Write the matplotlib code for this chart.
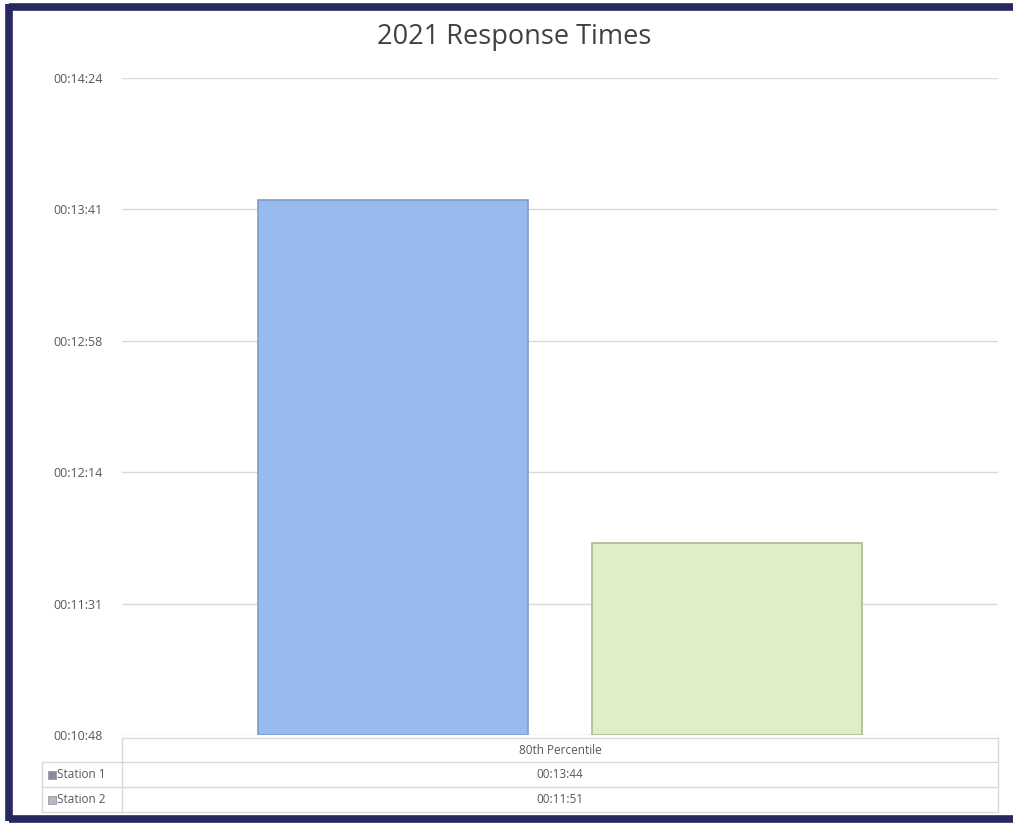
import matplotlib
matplotlib.use('Agg')
import matplotlib.pyplot as plt
from matplotlib.lines import Line2D
from matplotlib.patches import Rectangle

plt.rcParams['font.family'] = ['Open Sans', 'DejaVu Sans']

# 数据
title = '2021 Response Times'
category = '80th Percentile'
stations = ['Station 1', 'Station 2']
times = ['00:13:44', '00:11:51']
bar_colors = ['#97bbef', '#dfeec6']
edge_colors = ['#7d9cc9', '#a9b996']
y_min, y_max, y_step = 648, 864, 43.2   # 秒


def to_sec(s):
    h, m, sec = s.split(':')
    return int(h) * 3600 + int(m) * 60 + int(sec)


def fmt(v):
    v = int(round(v))
    return '{:02d}:{:02d}:{:02d}'.format(v // 3600, (v % 3600) // 60, v % 60)


W, H = 1013, 823
fig = plt.figure(figsize=(W / 100, H / 100), dpi=100)


def fx(x):
    return x / W


def fy(y):
    return 1 - y / H


# 外框 (右边被截掉)
border_c = '#27285f'
for xs, ys in [([8.5, 1013], [6.5, 6.5]), ([8.5, 8.5], [4, 821]), ([8.5, 1013], [818.5, 818.5])]:
    fig.lines.append(Line2D([fx(x) for x in xs], [fy(y) for y in ys], transform=fig.transFigure,
                            color=border_c, linewidth=5.5, solid_capstyle='butt'))

# 主图
ax_l, ax_r, ax_t, ax_b = 122, 998, 78, 735
ax = fig.add_axes([fx(ax_l), fy(ax_b), fx(ax_r - ax_l), fy(ax_t) - fy(ax_b)])

values = [to_sec(t) for t in times]
offsets = [-0.191, 0.191]
for i in range(len(stations)):
    ax.bar(offsets[i], values[i] - y_min, bottom=y_min, width=0.308,
           color=bar_colors[i], edgecolor=edge_colors[i], linewidth=1.2, zorder=3)

ax.set_xlim(-0.5, 0.5)
ax.set_ylim(y_min, y_max)
ticks = [y_min + y_step * k for k in range(6)]
ax.set_yticks(ticks)
ax.set_yticklabels([fmt(t) for t in ticks], fontsize=9, color='#595959')
ax.tick_params(axis='y', length=0, pad=14)
ax.set_xticks([])
ax.grid(axis='y', color='#d9d9d9', linewidth=1, zorder=0)
for s in ax.spines.values():
    s.set_visible(False)

fig.text(fx(514), fy(37), title, ha='center', va='center', fontsize=19.5, color='#404040')

# 数据表
line_c = '#d9d9d9'
rows_y = [738, 762, 787, 812]
tbl_l, lab_l = 122, 42


def hline(x0, x1, y):
    fig.lines.append(Line2D([fx(x0), fx(x1)], [fy(y), fy(y)], transform=fig.transFigure,
                            color=line_c, linewidth=1))


def vline(x, y0, y1):
    fig.lines.append(Line2D([fx(x), fx(x)], [fy(y0), fy(y1)], transform=fig.transFigure,
                            color=line_c, linewidth=1))


hline(tbl_l, ax_r, rows_y[0])
for y in rows_y[1:]:
    hline(lab_l, ax_r, y)
vline(tbl_l, rows_y[0], rows_y[-1])
vline(ax_r, rows_y[0], rows_y[-1])
vline(lab_l, rows_y[1], rows_y[-1])

fig.text(fx((tbl_l + ax_r) / 2), fy((rows_y[0] + rows_y[1]) / 2), category,
         ha='center', va='center', fontsize=8.5, color='#595959')
key_colors = ['#8a8a9a', '#b8b8c0']
for i, name in enumerate(stations):
    yc = (rows_y[i + 1] + rows_y[i + 2]) / 2
    fig.patches.append(Rectangle((fx(48), fy(yc + 4)), fx(8), fy(yc - 4) - fy(yc + 4),
                                 transform=fig.transFigure, facecolor=key_colors[i],
                                 edgecolor='#9a9aa6', linewidth=0.6))
    fig.text(fx(57), fy(yc), name, ha='left', va='center', fontsize=8.5, color='#595959')
    fig.text(fx((tbl_l + ax_r) / 2), fy(yc), times[i], ha='center', va='center',
             fontsize=8.5, color='#595959')

fig.savefig('out.png', dpi=100)
